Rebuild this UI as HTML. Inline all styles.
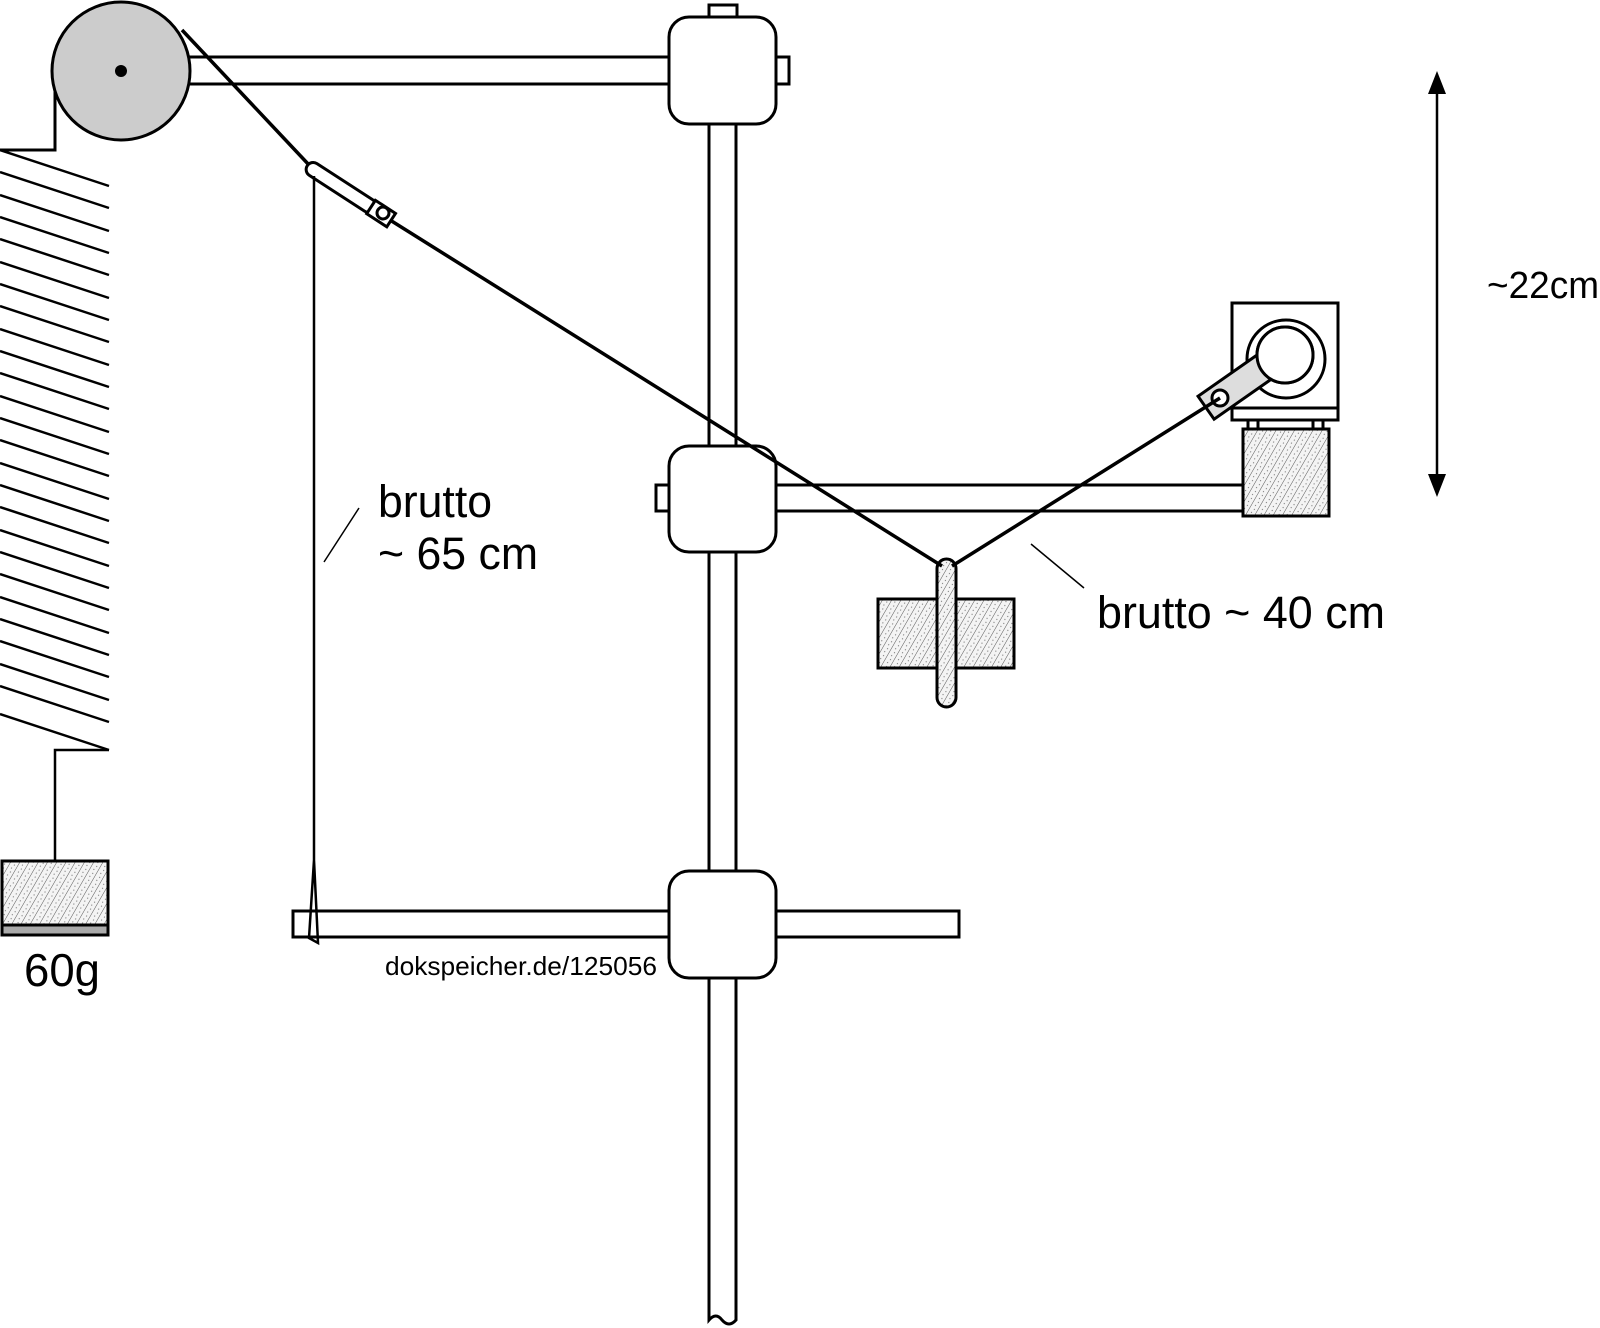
<!DOCTYPE html>
<html><head><meta charset="utf-8"><style>html,body{margin:0;padding:0;background:#fff}svg{display:block}</style></head>
<body>
<svg width="1600" height="1328" viewBox="0 0 1600 1328" xmlns="http://www.w3.org/2000/svg" font-family="Liberation Sans, sans-serif">
<defs>
<pattern id="h" width="8" height="8" patternUnits="userSpaceOnUse" patternTransform="rotate(30)">
<rect width="8" height="8" fill="#f4f4f4"/>
<line x1="0" y1="0" x2="0" y2="8" stroke="#555" stroke-width="1"/>
<circle cx="4" cy="2" r="0.6" fill="#777"/><circle cx="5" cy="6" r="0.6" fill="#777"/>
</pattern>
</defs>
<g stroke="#000" fill="none" stroke-width="3">
<polyline points="55,84 55,150 0,150"/>
<g stroke-width="2.5">
<line x1="0" y1="150" x2="109" y2="186"/>
<line x1="0" y1="172" x2="109" y2="208"/>
<line x1="0" y1="195" x2="109" y2="231"/>
<line x1="0" y1="217" x2="109" y2="253"/>
<line x1="0" y1="239" x2="109" y2="275"/>
<line x1="0" y1="262" x2="109" y2="298"/>
<line x1="0" y1="284" x2="109" y2="320"/>
<line x1="0" y1="306" x2="109" y2="342"/>
<line x1="0" y1="329" x2="109" y2="365"/>
<line x1="0" y1="351" x2="109" y2="387"/>
<line x1="0" y1="373" x2="109" y2="409"/>
<line x1="0" y1="396" x2="109" y2="432"/>
<line x1="0" y1="418" x2="109" y2="454"/>
<line x1="0" y1="440" x2="109" y2="476"/>
<line x1="0" y1="463" x2="109" y2="499"/>
<line x1="0" y1="485" x2="109" y2="521"/>
<line x1="0" y1="507" x2="109" y2="543"/>
<line x1="0" y1="530" x2="109" y2="566"/>
<line x1="0" y1="552" x2="109" y2="588"/>
<line x1="0" y1="574" x2="109" y2="610"/>
<line x1="0" y1="597" x2="109" y2="633"/>
<line x1="0" y1="619" x2="109" y2="655"/>
<line x1="0" y1="641" x2="109" y2="677"/>
<line x1="0" y1="664" x2="109" y2="700"/>
<line x1="0" y1="686" x2="109" y2="722"/>
<line x1="0" y1="714" x2="109" y2="750"/>
</g>
<polyline points="109,750 55,750 55,861" stroke-width="2.5"/>
<rect x="2" y="861" width="106" height="74" fill="url(#h)"/>
<rect x="2" y="925" width="106" height="10" fill="#aaa"/>
<rect x="150" y="57" width="520" height="27" fill="#fff"/>
<circle cx="121" cy="71" r="69" fill="#ccc"/>
<path d="M709,120 V1320 Q716,1312 722,1320 Q729,1328 736,1320 V120" fill="#fff"/>
<rect x="770" y="485" width="473" height="26" fill="#fff"/>
<rect x="293" y="911" width="666" height="26" fill="#fff"/>
<rect x="709" y="5" width="28" height="14" fill="#fff"/>
<rect x="774" y="57" width="15" height="27" fill="#fff"/>
<rect x="656" y="485" width="15" height="26" fill="#fff"/>
<rect x="669" y="17" width="107" height="107" rx="20" fill="#fff"/>
<rect x="669" y="446" width="107" height="106" rx="20" fill="#fff"/>
<rect x="669" y="871" width="107" height="107" rx="20" fill="#fff"/>
<rect x="1243" y="429" width="86" height="87" fill="url(#h)"/>
<rect x="1248" y="420" width="10" height="9" fill="#fff"/>
<rect x="1313" y="420" width="10" height="9" fill="#fff"/>
<rect x="1232" y="303" width="106" height="117" fill="#fff"/>
<line x1="1232" y1="408" x2="1338" y2="408"/>
<circle cx="1286" cy="359" r="39"/>
<circle cx="1285" cy="355" r="28"/>
<g transform="rotate(-35 1220 398)">
<rect x="1203" y="384" width="72" height="28" fill="#ddd"/>
</g>
<circle cx="1285" cy="355" r="28" fill="#fff"/>
<circle cx="1220" cy="398" r="8" fill="#fff"/>
<rect x="878" y="599" width="136" height="69" fill="url(#h)"/>
<rect x="937" y="559" width="19" height="148" rx="9.5" fill="url(#h)"/>
<g stroke-width="3.5">
<line x1="182" y1="30" x2="310" y2="166"/>
<line x1="390" y1="220" x2="942" y2="566"/>
<line x1="952" y1="566" x2="1220" y2="398"/>
</g>
<g transform="rotate(33 314 170)">
<rect x="306" y="163" width="80" height="14" rx="7" fill="#fff"/>
<rect x="382" y="162" width="24" height="16" fill="#fff"/>
</g>
<circle cx="383" cy="213" r="6"/>
<polyline points="314,176 314,860 309,938 318,943 314,860" stroke-width="2.5"/>
<line x1="1437" y1="88" x2="1437" y2="480" stroke-width="2.5"/>
</g>
<circle cx="121" cy="71" r="6" fill="#000"/>
<polygon points="1437,71 1428,94 1446,94" fill="#000"/>
<polygon points="1437,497 1428,474 1446,474" fill="#000"/>
<line x1="359" y1="508" x2="324" y2="562" stroke="#000" stroke-width="1.5"/>
<line x1="1031" y1="544" x2="1084" y2="588" stroke="#000" stroke-width="1.5"/>
<g fill="#000">
<text x="378" y="517" font-size="45" textLength="114" lengthAdjust="spacingAndGlyphs">brutto</text>
<text x="378" y="569" font-size="45" textLength="160" lengthAdjust="spacingAndGlyphs">~ 65 cm</text>
<text x="1097" y="628" font-size="45" textLength="288" lengthAdjust="spacingAndGlyphs">brutto ~ 40 cm</text>
<text x="1487" y="298" font-size="38" textLength="112" lengthAdjust="spacingAndGlyphs">~22cm</text>
<text x="24" y="986" font-size="46" textLength="76" lengthAdjust="spacingAndGlyphs">60g</text>
<text x="385" y="975" font-size="26" textLength="272" lengthAdjust="spacingAndGlyphs">dokspeicher.de/125056</text>
</g>
</svg>
</body></html>
